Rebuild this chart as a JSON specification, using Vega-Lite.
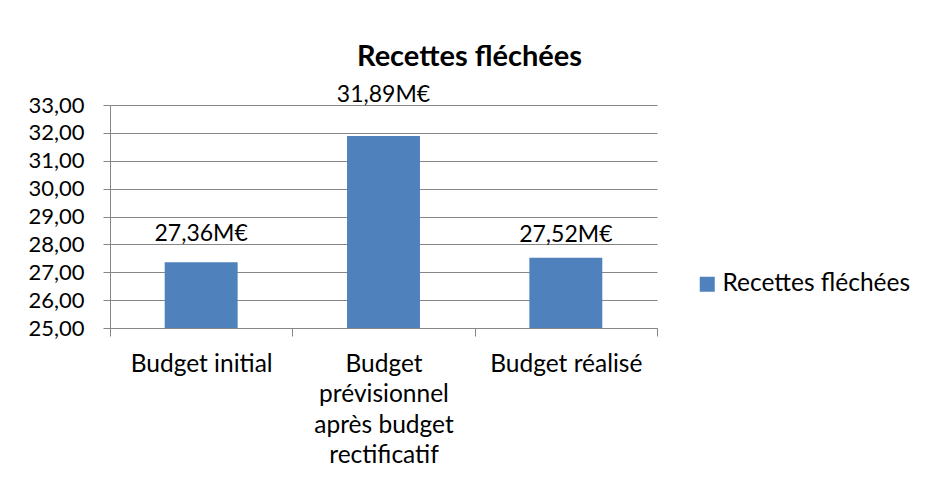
{
  "$schema": "https://vega.github.io/schema/vega-lite/v6.json",
  "width": 547,
  "height": 223,
  "autosize": {"type": "none"},
  "padding": {"left": 110, "top": 105, "right": 269, "bottom": 156},
  "background": "white",
  "title": {"text": "Recettes fléchées", "fontSize": 29, "font": "Lato", "fontWeight": "bold", "color": "#000000", "anchor": "middle", "frame": "bounds", "offset": 12},
  "data": {"values": [
    {"poste": "Budget initial", "serie": "Recettes fléchées", "valeur": 27.36},
    {"poste": "Budget prévisionnel après budget rectificatif", "serie": "Recettes fléchées", "valeur": 31.89},
    {"poste": "Budget réalisé", "serie": "Recettes fléchées", "valeur": 27.52}
  ]},
  "encoding": {
    "x": {"field": "poste", "type": "nominal", "sort": null,
      "scale": {"paddingInner": 0, "paddingOuter": 0},
      "axis": {"title": null, "labelAngle": 0, "tickBand": "extent", "tickSize": 8, "labelPadding": 16,
        "labelExpr": "datum.label == 'Budget prévisionnel après budget rectificatif' ? ['Budget', 'prévisionnel', 'après budget', 'rectificatif'] : datum.label",
        "labelLineHeight": 30.5, "labelBaseline": "top", "labelFontSize": 24.5, "labelFont": "Lato", "labelColor": "#000000", "labelLimit": 0,
        "domainColor": "#868686", "tickColor": "#868686", "grid": false}},
    "y": {"field": "valeur", "type": "quantitative",
      "scale": {"domain": [25, 33], "nice": false, "zero": false},
      "axis": {"title": null, "values": [25, 26, 27, 28, 29, 30, 31, 32, 33], "format": ".2f",
        "labelFontSize": 22, "labelFont": "Lato", "labelColor": "#000000", "tickSize": 7, "labelPadding": 19,
        "domainColor": "#868686", "tickColor": "#868686", "gridColor": "#868686", "grid": true}}
  },
  "layer": [
    {"mark": {"type": "bar", "width": {"band": 0.4}, "clip": true},
     "encoding": {"color": {"field": "serie", "type": "nominal", "scale": {"range": ["#4F81BD"]},
       "legend": {"title": null, "orient": "none", "legendX": 585, "legendY": 167, "symbolType": "square", "symbolSize": 225, "symbolStrokeWidth": 0, "labelFontSize": 24.5, "labelFont": "Lato", "labelColor": "#000000", "labelOffset": 3, "labelLimit": 0}}}},
    {"transform": [{"filter": "datum.poste == 'Budget initial'"}],
     "mark": {"type": "text", "baseline": "alphabetic", "dy": -21, "fontSize": 23, "font": "Lato", "color": "#000000"},
     "encoding": {"text": {"field": "valeur", "type": "quantitative", "format": "$.2f"}}},
    {"transform": [{"filter": "datum.poste == 'Budget réalisé'"}],
     "mark": {"type": "text", "baseline": "alphabetic", "dy": -16, "fontSize": 23, "font": "Lato", "color": "#000000"},
     "encoding": {"text": {"field": "valeur", "type": "quantitative", "format": "$.2f"}}},
    {"transform": [{"filter": "datum.valeur >= 30"}],
     "mark": {"type": "text", "baseline": "alphabetic", "dy": -34, "fontSize": 23, "font": "Lato", "color": "#000000"},
     "encoding": {"text": {"field": "valeur", "type": "quantitative", "format": "$.2f"}}}
  ],
  "config": {
    "locale": {"number": {"decimal": ",", "thousands": " ", "grouping": [3], "currency": ["", "M€"]}},
    "view": {"stroke": null}
  }
}
